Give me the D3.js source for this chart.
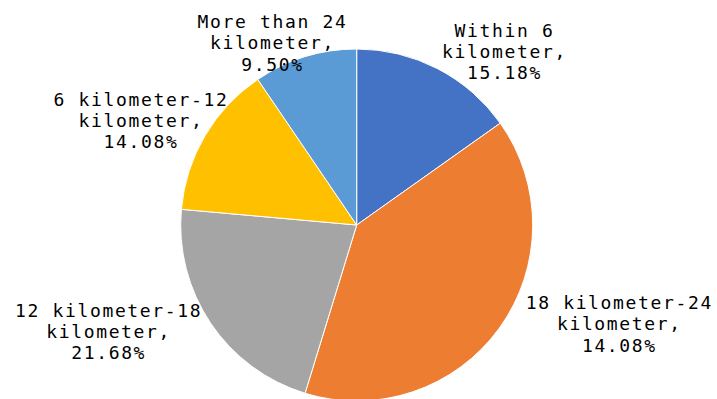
<!DOCTYPE html>
<html>
<head>
<meta charset="utf-8">
<script src="https://cdn.jsdelivr.net/npm/d3@7/dist/d3.min.js"></script>
<style>
  html, body { margin: 0; padding: 0; background: #fff; }
  svg { display: block; }
</style>
</head>
<body>
<svg id="chart" width="717" height="399"></svg>
<script>
// ---- data ----
const categories = [
  "Within 6 kilometer",
  "18 kilometer-24 kilometer",
  "12 kilometer-18 kilometer",
  "6 kilometer-12 kilometer",
  "More than 24 kilometer"
];
const values = [15.18, 39.56, 21.68, 14.08, 9.50];
// label text as printed in the original figure
const labelLine1 = ["Within 6", "18 kilometer-24", "12 kilometer-18", "6 kilometer-12", "More than 24"];
const labelLine2 = ["kilometer,", "kilometer,", "kilometer,", "kilometer,", "kilometer,"];
const labelPct = ["15.18%", "14.08%", "21.68%", "14.08%", "9.50%"];
const colors = ["#4472C4", "#ED7D31", "#A5A5A5", "#FFC000", "#5B9BD5"];

// ---- layout ----
const W = 717, H = 399;
const cx = 356.7, cy = 225, R = 176;
const lineH = 21.3;
// offsets of each label block (center x, first baseline) from the slice's outer-edge midpoint
const labelOffsets = [[67, -32], [120, -19], [-102, -6.5], [-64, -30], [-32.5, -28.7]];

const svg = d3.select("#chart");
const g = svg.append("g").attr("transform", `translate(${cx},${cy})`);

const data = categories.map((c, i) => ({ cat: c, value: values[i], i }));
const pie = d3.pie().sort(null).value(d => d.value);
const arcs = pie(data);
const arc = d3.arc().innerRadius(0).outerRadius(R);
const edgeArc = d3.arc().innerRadius(R).outerRadius(R);

g.selectAll("path.slice")
  .data(arcs)
  .join("path")
  .attr("class", "slice")
  .attr("d", arc)
  .attr("fill", d => colors[d.data.i])
  .attr("stroke", "#ffffff")
  .attr("stroke-width", 1);

const labelGroups = g.selectAll("g.lbl")
  .data(arcs)
  .join("g")
  .attr("class", "lbl")
  .attr("transform", d => {
    const p = edgeArc.centroid(d);
    const o = labelOffsets[d.data.i];
    return `translate(${p[0] + o[0]},${p[1] + o[1]})`;
  });

labelGroups.each(function(d) {
  const grp = d3.select(this);
  const i = d.data.i;
  [labelLine1[i], labelLine2[i], labelPct[i]].forEach((s, k) => {
    grp.append("text")
      .attr("x", 0)
      .attr("y", k * lineH)
      .attr("text-anchor", "middle")
      .attr("font-family", "'DejaVu Sans Mono', 'Liberation Mono', monospace")
      .attr("font-size", 18)
      .attr("letter-spacing", 1.65)
      .attr("fill", "#000")
      .text(s);
  });
});
</script>
</body>
</html>
